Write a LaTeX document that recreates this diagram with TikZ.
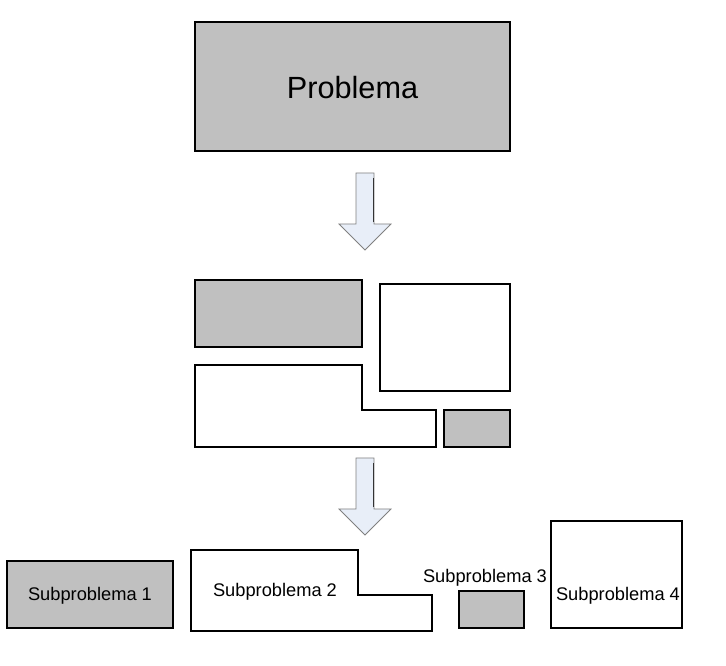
\documentclass[tikz,border=0pt]{standalone}
\usepackage{fontspec}
\setmainfont{Liberation Sans}
\usepackage{xcolor}
\usetikzlibrary{positioning}
\definecolor{boxgray}{HTML}{C0C0C0}
\definecolor{arrowfill}{HTML}{E8EEF8}

\begin{document}
\begin{tikzpicture}[
    x=0.75pt, y=-0.75pt,
    every node/.style={font=\fontsize{13.7}{15}\selectfont, inner sep=0pt},
    piece/.style={draw=black, line width=0.8pt},
    full/.style={piece, fill=boxgray},
    empty/.style={piece, fill=white},
    bigarrow/.style={draw=black!50, fill=arrowfill, line width=0.6pt, line join=miter}
]
\useasboundingbox (0,0) rectangle (726,666);

% whole problem
\draw[full] (195,22) rectangle (510,151);
\node (prob) at (352.5,88) {\fontsize{23}{26}\selectfont Problema};

% first block arrow
\draw[bigarrow] (356,173) -- (374,173) -- (374,224) -- (391,224) -- (365,250)
  -- (339,224) -- (356,224) -- cycle;
\draw[black!80,line width=0.6pt] (373,178) -- (373,222);

% problem cut into pieces
\draw[full]  (195,280) rectangle (362,347);
\draw[empty] (380,284) rectangle (510,391);
\draw[empty] (195,365) -- (362,365) -- (362,410) -- (436,410) -- (436,447)
  -- (195,447) -- cycle;
\draw[full]  (444,410) rectangle (510,447);

% second block arrow
\draw[bigarrow] (356,458) -- (374,458) -- (374,509) -- (391,509) -- (365,535)
  -- (339,509) -- (356,509) -- cycle;
\draw[black!80,line width=0.6pt] (373,463) -- (373,507);

% subproblems
\draw[full]  (7,561) rectangle (173,628);
\node (sub1) at (90,596) {Subproblema 1};
\draw[empty] (191,550) -- (358,550) -- (358,595) -- (432,595) -- (432,631)
  -- (191,631) -- cycle;
\node (sub2) at (275,592) {Subproblema 2};
\draw[full]  (459,591) rectangle (524,628);
\node (sub3) at (485,578) {Subproblema 3};
\draw[empty] (551,521) rectangle (682,628);
\node (sub4) at (618,596) {Subproblema 4};
\end{tikzpicture}
\end{document}
